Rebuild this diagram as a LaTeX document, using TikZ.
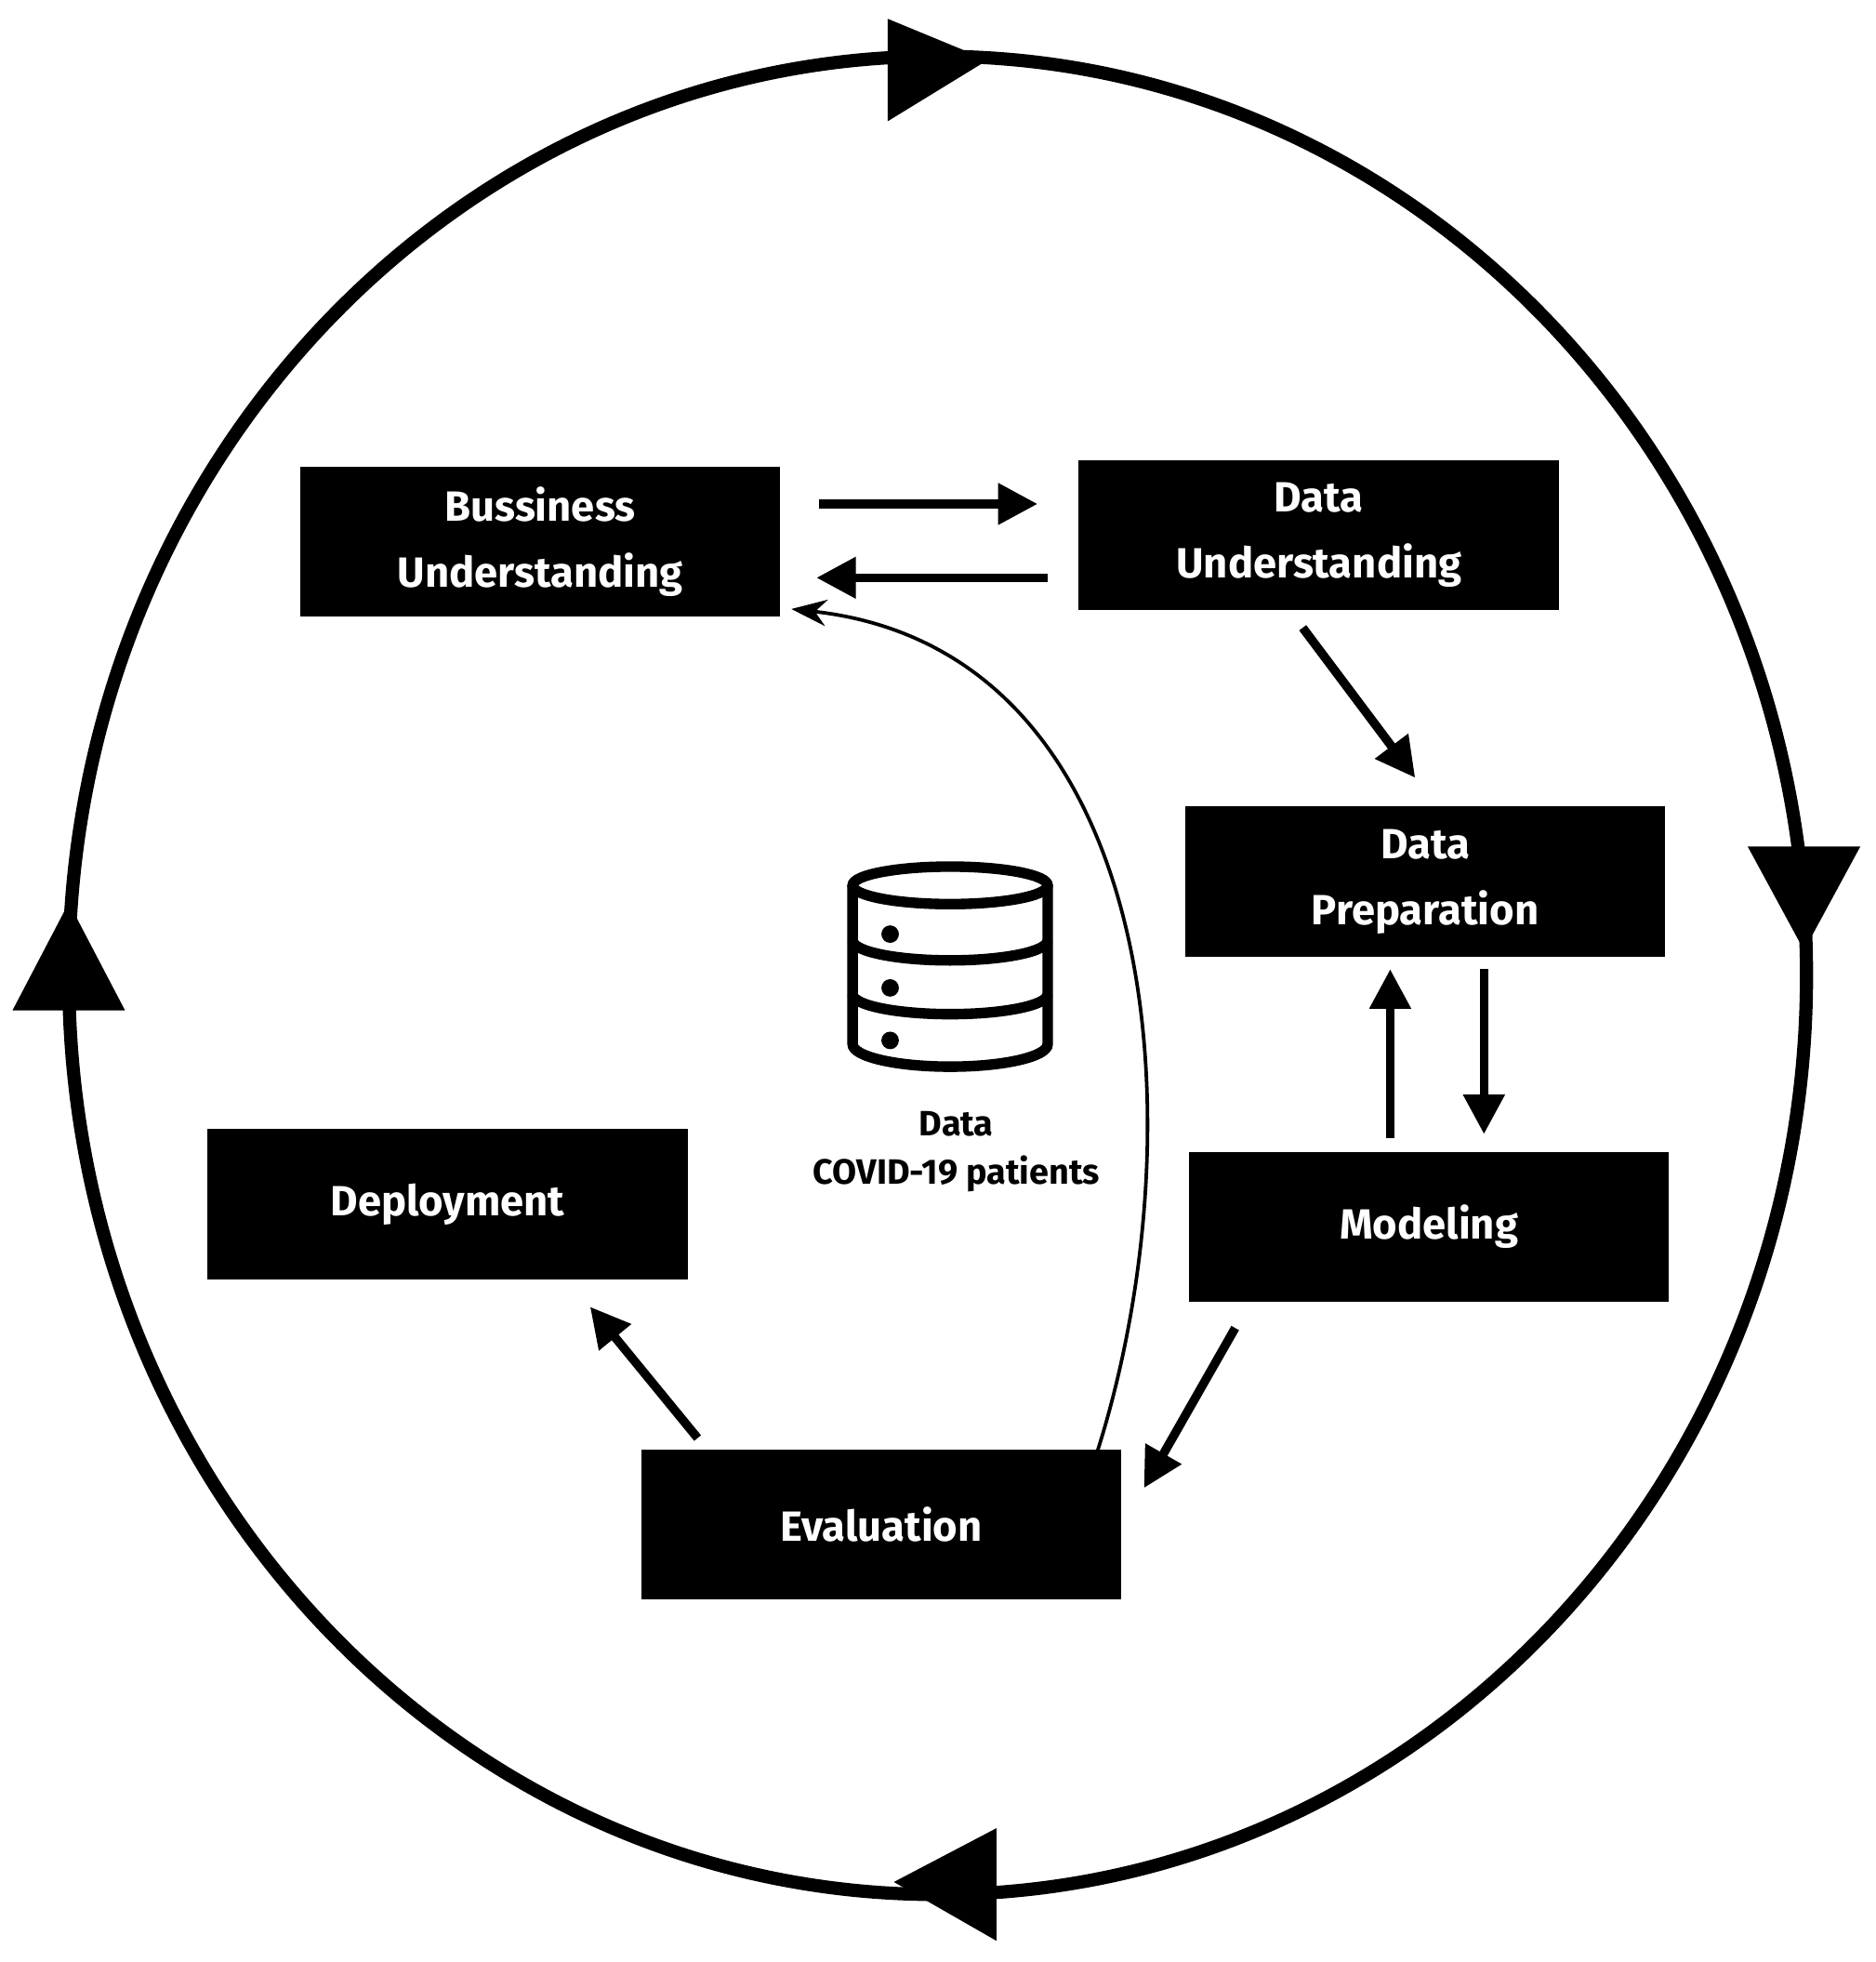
\documentclass[tikz,border=0pt]{standalone}
\usepackage{fontspec}
\setmainfont{Fira Sans}
\usetikzlibrary{arrows.meta}
\begin{document}
\begin{tikzpicture}[x=0.01cm,y=-0.01cm,
  box/.style={fill=black,text=white,font=\fontsize{9.6}{13}\selectfont\bfseries,minimum width=3.84cm,minimum height=1.2cm,align=center,inner sep=0pt},
  thick arrow/.style={line width=2pt,-{Triangle[length=9pt,width=9pt]}}]
\useasboundingbox (0,0) rectangle (1500,1569);
\draw[line width=3pt] (750,780) ellipse [x radius=695, y radius=735];
\fill (790,48) -- (710,15) -- (710,97) -- cycle;
\fill (1443,760) -- (1398,677) -- (1488,677) -- cycle;
\fill (715,1505) -- (797,1462) -- (797,1552) -- cycle;
\fill (55,722) -- (10,808) -- (100,808) -- cycle;
\node[box] (bu) at (432,433) {Bussiness\\[2pt]Understanding};
\node[box] (du) at (1055,428) {Data\\[2pt]Understanding};
\node[box] (dp) at (1140,705) {Data\\[2pt]Preparation};
\node[box] (mo) at (1143,981) {Modeling};
\node[box] (de) at (358,963) {Deployment};
\node[box] (ev) at (705,1219) {Evaluation};
\draw[thick arrow] (655,403) -- (830,403);
\draw[thick arrow] (838,462) -- (653,462);
\draw[thick arrow] (1042,502) -- (1132,622);
\draw[thick arrow] (1112,910) -- (1112,775);
\draw[thick arrow] (1187,775) -- (1187,907);
\draw[thick arrow] (988,1062) -- (915,1190);
\draw[thick arrow] (558,1150) -- (472,1045);
\draw[line width=0.8pt,-{Stealth[length=8pt,width=6pt]}] (878,1160) .. controls (960,900) and (930,520) .. (633,487);
% database icon
\begin{scope}[line width=2.4pt]
\draw (760,708) ellipse [x radius=78, y radius=15];
\draw (682,708) -- (682,835) arc[start angle=180,end angle=0,x radius=78,y radius=18] -- (838,708);
\draw (682,752) arc[start angle=180,end angle=0,x radius=78,y radius=16];
\draw (682,795) arc[start angle=180,end angle=0,x radius=78,y radius=16];
\end{scope}
\fill (712,747) circle (7);
\fill (712,790) circle (7);
\fill (712,832) circle (7);
\node[font=\fontsize{8}{11}\selectfont\bfseries,align=center] (db) at (765,921) {Data\\COVID-19 patients};
\end{tikzpicture}
\end{document}
